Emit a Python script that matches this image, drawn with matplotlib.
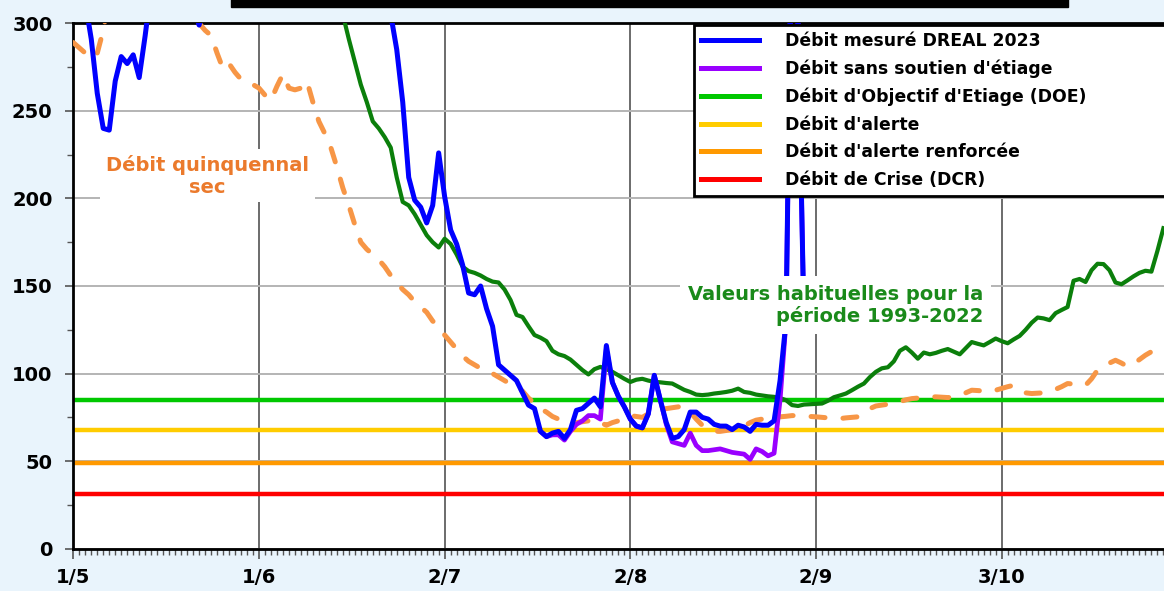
import numpy as np
import matplotlib
matplotlib.use('Agg')
import matplotlib.pyplot as plt
from matplotlib.patches import Rectangle

# x axis = days since 1 May
tick_days = [0, 31, 62, 93, 124, 155]
tick_labels = ['1/5', '1/6', '2/7', '2/8', '2/9', '3/10']

# Débit mesuré DREAL 2023 (daily, day 0 .. 122), values > 300 are off the chart
mesure = [345, 330, 312, 291, 260, 240, 239, 267, 281, 277, 282, 269, 293, 320,
          330, 345, 355, 350, 340, 325, 310, 299, 312, 330, 350, 370, 390, 410,
          420, 430, 440, 445, 450, 455, 460, 455, 450, 440, 430, 420, 410, 400,
          395, 390, 380, 375, 370, 360, 350, 345, 340, 330, 320, 305, 285, 255,
          212, 199, 195, 186, 196, 226, 201, 182, 174, 162, 146, 145, 150, 137,
          127, 105, 102, 99, 96, 89, 82, 80, 67, 64, 66, 67, 63, 68, 79, 80,
          83, 86, 81, 116, 95, 87, 81, 74, 70, 69, 77, 99, 85, 72, 63, 64, 68,
          78, 78, 75, 74, 71, 70, 70, 68, 70.5, 69.5, 67, 71, 70.5, 70.5, 73,
          96, 130, 380, 300, 128]
days_mesure = np.arange(len(mesure))

# Débit sans soutien d'étiage (day 78 .. 122)
sans_soutien = [67, 64, 65, 65, 62, 67, 71, 73, 76, 76, 74, 114, 95, 87, 81, 74,
                70, 69, 77, 99, 85, 71, 61, 60, 59, 66, 59, 56, 56, 56.5, 57, 56,
                55, 54.5, 54, 51, 57, 55.5, 53, 54.5, 85, 130, 380, 300, 128]
days_sans = np.arange(78, 78 + len(sans_soutien))

# Valeurs habituelles 1993-2022 (day 43 .. 182)
habituelles = [335, 318, 305, 291, 278, 265, 255, 244, 240, 235, 229, 212, 198,
               196, 191, 185, 179, 175, 172, 177, 174, 168, 161, 158.5, 157.5,
               156, 154, 152.5, 152, 148, 142, 133.5, 132.3, 127, 122, 120.5,
               118.5, 113, 111, 110, 108, 105, 102, 99.5, 102.5, 103.8, 102.5,
               101, 99, 97, 95.2, 96.5, 97, 96, 95.3, 95, 94.6, 94.3, 92.5, 90.7,
               89.5, 88, 87.7, 88, 88.6, 89, 89.5, 90.2, 91.4, 89.5, 89, 88,
               87.5, 87, 86.7, 86, 84.8, 82, 81.5, 82.3, 82.5, 82.7, 82.9, 84.5,
               86.5, 87.5, 88.6, 90.5, 92.5, 94.3, 98, 101, 103, 103.6, 107, 113,
               115, 112, 108.5, 112, 111, 111.8, 113, 114, 112.5, 111, 114.5,
               118, 117, 116.1, 118, 120, 118.5, 117.3, 119.5, 121.5, 125, 129,
               132, 131.5, 130.5, 134.5, 136.3, 138, 153, 154, 152.3, 159, 162.7,
               162.5, 159, 152, 151, 153.2, 155.5, 157.5, 158.7, 158.2, 170, 183]
days_hab = np.arange(43, 43 + len(habituelles))

# Débit quinquennal sec (day 0 .. 182)
quinquennal = [289, 286, 283, 280, 283, 296, 315, 320, 330, 335, 340, 338, 335,
               330, 328, 325, 320, 315, 312, 308, 305, 300, 296, 293, 283, 274,
               277, 272, 268, 266, 265, 263, 259, 256, 264, 271, 263, 262, 263,
               267, 255, 244, 237, 229, 218, 206, 196, 185, 175, 171, 168, 165,
               161, 156, 152, 148, 145, 141, 138, 135, 130, 127, 122, 118, 114,
               110, 107, 105, 103, 102, 100, 98, 96, 94, 92, 90, 86, 83, 80, 78,
               75.5, 74, 73, 71.5, 72, 72.5, 73, 74, 72, 70.5, 72, 73, 74.5, 76,
               75.5, 75, 77, 78, 79, 80, 80.5, 81, 82, 78, 74, 70.5, 69, 67, 67,
               67.5, 68, 68.5, 70, 72, 73.4, 74, 74.5, 75, 75.3, 75.6, 76, 76,
               75.8, 75.5, 75.3, 75, 74.7, 74.4, 74.3, 74.7, 75, 75.3, 77, 80,
               81.5, 82, 82.5, 83, 84, 85, 85.7, 86, 86.3, 86.6, 86.7, 86.5, 86.3,
               86.5, 88, 89, 90.5, 90.3, 90, 89.5, 90.5, 91.5, 92.5, 93.3, 91, 89,
               88.6, 88.8, 89, 89.5, 91, 92.5, 94.3, 94, 93.6, 93.3, 97, 102, 104,
               106, 107.6, 106, 104, 105.5, 108, 110.5, 112.5, 114.5, 117]
days_quin = np.arange(len(quinquennal))

# seuils
doe = 85
alerte = 68
alerte_renf = 49
crise = 31

W, H = 1164, 591
fig = plt.figure(figsize=(W / 100, H / 100), dpi=100, facecolor='#E9F4FC')
plt.rcParams['font.family'] = ['DejaVu Sans']
ax = fig.add_axes([73.3 / W, 42.3 / H, 1 - 73.3 / W, 525.4 / H])
ax.set_facecolor('white')

# black bar (title box cut off at the top)
fig.patches.append(Rectangle((231 / W, 584 / H), (1068 - 231) / W, 10 / H,
                             transform=fig.transFigure, color='black'))

ax.axhline(doe, color='#00C800', lw=3.2, zorder=2)
ax.axhline(alerte, color='#FFCC00', lw=3.2, zorder=2)
ax.axhline(alerte_renf, color='#FF9900', lw=3.2, zorder=2)
ax.axhline(crise, color='#FF0000', lw=3.2, zorder=2)

ax.plot(days_quin, quinquennal, color='#F79646', lw=3.6, dashes=(2.8, 3.6),
        dash_capstyle='round', zorder=3)
ax.plot(days_hab, habituelles, color='#0B7F0B', lw=3.0, solid_joinstyle='round', zorder=3)
ax.plot(days_sans, sans_soutien, color='#9900FF', lw=3.4, solid_joinstyle='round', zorder=4)
ax.plot(days_mesure, mesure, color='#0000FF', lw=3.6, solid_joinstyle='round', zorder=5)

ax.set_xlim(0, 182.1)
ax.set_ylim(0, 300)
ax.set_xticks(tick_days)
ax.set_xticklabels(tick_labels)
ax.set_xticks(np.arange(0, 183), minor=True)
ax.set_yticks(np.arange(0, 301, 50))
ax.set_yticks(np.arange(25, 300, 50), minor=True)
ax.tick_params(axis='both', which='major', labelsize=14, direction='out', color='#555555', width=1.2)
ax.tick_params(axis='x', which='major', length=7, pad=7)
ax.tick_params(axis='y', which='major', length=6, pad=9)
ax.tick_params(axis='x', which='minor', length=4.5, color='#555555', width=1)
ax.tick_params(axis='y', which='minor', length=4, color='#555555', width=1)
for lab in ax.get_xticklabels() + ax.get_yticklabels():
    lab.set_fontweight('bold')

ax.grid(axis='x', which='major', color='#444444', lw=1.1, zorder=1)
ax.grid(axis='y', which='major', color='#B4B4B4', lw=1.4, zorder=1)
ax.set_axisbelow(True)
for side in ['left', 'bottom', 'top']:
    ax.spines[side].set_color('black')
    ax.spines[side].set_linewidth(2)
ax.spines['right'].set_visible(False)

ax.text(22.4, 213, 'Débit quinquennal\nsec', ha='center', va='center',
        multialignment='center', fontsize=14, fontweight='bold', color='#EB7A2C',
        bbox=dict(facecolor='white', edgecolor='none', pad=4), zorder=6)
ax.text(151.9, 139, 'Valeurs habituelles pour la\npériode 1993-2022', ha='right',
        va='center', multialignment='right', fontsize=14, fontweight='bold',
        color='#1A8A1A', linespacing=1.15,
        bbox=dict(facecolor='white', edgecolor='none', pad=6), zorder=6)

# legend
h = [plt.Line2D([], [], color=c, lw=3.6) for c in
     ['#0000FF', '#9900FF', '#00C800', '#FFCC00', '#FF9900', '#FF0000']]
labels = ['Débit mesuré DREAL 2023', 'Débit sans soutien d\'étiage',
          "Débit d'Objectif d'Etiage (DOE)", "Débit d'alerte",
          "Débit d'alerte renforcée", 'Débit de Crise (DCR)']
leg = ax.legend(h, labels, loc='upper left', mode='expand',
                bbox_to_anchor=(694 / W, 0, (1166 - 694) / W, 566 / H),
                bbox_transform=fig.transFigure, prop={'weight': 'bold', 'size': 12.4},
                handlelength=3.4, handletextpad=1.5, labelspacing=0.56,
                borderpad=0.4, borderaxespad=0, fancybox=False, framealpha=1)
leg.get_frame().set_edgecolor('black')
leg.get_frame().set_linewidth(2)
leg.set_zorder(10)

fig.savefig('out.png', dpi=100, facecolor=fig.get_facecolor())
